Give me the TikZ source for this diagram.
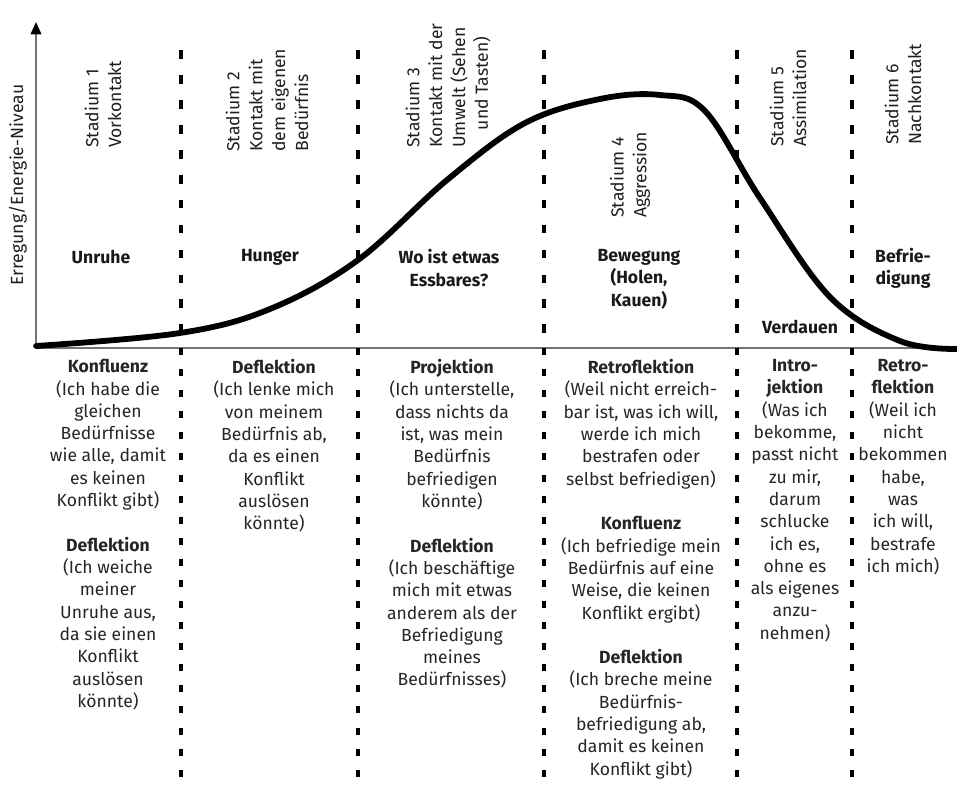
\documentclass[tikz,border=0pt]{standalone}
\usepackage{fontspec}
\setmainfont{Fira Sans}
\usetikzlibrary{arrows.meta}

\newcommand\colfont{\fontsize{10}{12.7}\selectfont}
\newcommand\stagefont{\fontsize{10}{13}\selectfont}

\begin{document}
\begin{tikzpicture}[
  x=0.02cm, y=-0.02cm,
  stage/.style={rotate=90, anchor=west, align=left, inner sep=0pt, font=\stagefont, text=black!88},
  phase/.style={align=center, inner sep=0pt, font=\colfont\bfseries, text=black!90},
  defence/.style={align=center, anchor=north, inner sep=0pt, font=\colfont, text=black!85},
  axis/.style={draw=black!55, line width=1.1pt},
  border/.style={line width=1.8pt, dash pattern=on 5pt off 9.2pt},
  borderlow/.style={line width=1.8pt, dash pattern=on 4pt off 8pt},
  curve/.style={line width=3.3pt, line cap=round},
]

% Canvas
\useasboundingbox (0,0) rectangle (957,790);

% Axes
\coordinate (origin) at (36,348);
\coordinate (ytop)   at (36,22);
\coordinate (xend)   at (957,348);
\draw[axis] (origin) -- (xend);
\draw[axis, -{Triangle[length=7pt, width=6pt, color=black]}] (origin) -- (ytop);
\node[rotate=90, inner sep=0pt, font=\colfont, text=black!88] (ylabel) at (18,185) {Erregung/Energie-Niveau};

% Stage borders
\foreach \x in {181,358,544,737,852} {
  \draw[border] (\x,50) -- (\x,348);
  \draw[borderlow] (\x,348) -- (\x,785);
}

% Contact curve
\draw[curve] plot[smooth, tension=0.6] coordinates {
  (36,346) (180,333) (270,309) (358,260) (447,180) (525,123) (600,99)
  (660,95) (705,111) (760,198) (830,297) (900,341) (957,349)};

% Stages (rotated)
\node[stage] (stage1) at (103,148) {Stadium 1\\Vorkontakt};
\node[stage] (stage2) at (267,152) {Stadium 2\\Kontakt mit\\dem eigenen\\Bedürfnis};
\node[stage] (stage3) at (448,148) {Stadium 3\\Kontakt mit der\\Umwelt (Sehen\\\hspace*{1em}und Tasten)};
\node[stage] (stage4) at (630,218) {Stadium 4\\Aggression};
\node[stage] (stage5) at (788,147) {Stadium 5\\Assimilation};
\node[stage] (stage6) at (903,145) {Stadium 6\\Nachkontakt};

% Phases
\node[phase] (unruhe)   at (101,257) {Unruhe};
\node[phase] (hunger)   at (270,257) {Hunger};
\node[phase] (essbares) at (449,268) {Wo ist etwas\\Essbares?};
\node[phase] (bewegung) at (639,279) {Bewegung\\(Holen,\\Kauen)};
\node[phase] (verdauen) at (800,327) {Verdauen};
\node[phase] (befried)  at (903,268) {Befrie-\\digung};

% Contact interruptions (below axis)
\node[defence] (col1) at (108,359) {\textbf{Konfluenz}\\(Ich habe die\\gleichen\\Bedürfnisse\\wie alle, damit\\es keinen\\Konflikt gibt)\\[12.7pt]
  \textbf{Deflektion}\\(Ich weiche\\meiner\\Unruhe aus,\\da sie einen\\Konflikt\\auslösen\\könnte)};
\node[defence] (col2) at (274,359) {\textbf{Deflektion}\\(Ich lenke mich\\von meinem\\Bedürfnis ab,\\da es einen\\Konflikt\\auslösen\\könnte)};
\node[defence] (col3) at (452,359) {\textbf{Projektion}\\(Ich unterstelle,\\dass nichts da\\ist, was mein\\Bedürfnis\\befriedigen\\könnte)\\[12.7pt]
  \textbf{Deflektion}\\(Ich beschäftige\\mich mit etwas\\anderem als der\\Befriedigung\\meines\\Bedürfnisses)};
\node[defence] (col4) at (641,359) {\textbf{Retroflektion}\\(Weil nicht erreich-\\bar ist, was ich will,\\werde ich mich\\bestrafen oder\\selbst befriedigen)\\[12.7pt]
  \textbf{Konfluenz}\\(Ich befriedige mein\\Bedürfnis auf eine\\Weise, die keinen\\Konflikt ergibt)\\[12.7pt]
  \textbf{Deflektion}\\(Ich breche meine\\Bedürfnis-\\befriedigung ab,\\damit es keinen\\Konflikt gibt)};
\node[defence] (col5) at (795,359) {\textbf{Intro-}\\\textbf{jektion}\\(Was ich\\bekomme,\\passt nicht\\zu mir,\\darum\\schlucke\\ich es,\\ohne es\\als eigenes\\anzu-\\nehmen)};
\node[defence] (col6) at (903,359) {\textbf{Retro-}\\\textbf{flektion}\\(Weil ich\\nicht\\bekommen\\habe,\\was\\ich will,\\bestrafe\\ich mich)};

\end{tikzpicture}
\end{document}
